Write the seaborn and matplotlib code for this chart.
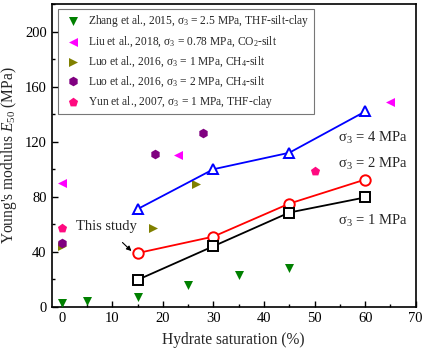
import matplotlib
matplotlib.use("Agg")
import matplotlib.pyplot as plt
import seaborn as sns
import pandas as pd
from matplotlib.ticker import MultipleLocator

sns.set_theme(style="ticks")
plt.rcParams['font.family'] = ['Liberation Serif', 'DejaVu Serif']
plt.rcParams['mathtext.fontset'] = 'custom'
plt.rcParams['mathtext.rm'] = 'Liberation Serif'
plt.rcParams['mathtext.it'] = 'Liberation Serif:italic'

# This study
sat = [15, 30, 45, 60]
e_s1 = [19.5, 44, 68.5, 79.5]
e_s2 = [39, 51, 75, 92.5]
e_s4 = [71, 100, 112, 142]

# Literature
zhang_x = [0, 5, 15, 25, 35, 45]
zhang_y = [3, 4.5, 7, 16, 23, 28]
liu_x = [0, 23, 65]
liu_y = [90, 110, 149]
luo1_x = [0, 18, 26.5]
luo1_y = [44, 57, 89.5]
luo2_x = [0, 18.5, 28]
luo2_y = [46, 111, 126]
yun_x = [0, 50]
yun_y = [57, 99]

fig = plt.figure(figsize=(4.24, 3.55), dpi=100)
ax = fig.add_axes([0.1215, 0.136, 0.859, 0.852])

lit = [
    (zhang_x, zhang_y, 'v', '#008000', 'Zhang et al., 2015, σ$_3$ = 2.5 MPa, THF-silt-clay', 42),
    (liu_x, liu_y, '<', '#FF00FF', 'Liu et al., 2018, σ$_3$ = 0.78 MPa, CO$_2$-silt', 42),
    (luo1_x, luo1_y, '>', '#808000', 'Luo et al., 2016, σ$_3$ = 1 MPa, CH$_4$-silt', 42),
    (luo2_x, luo2_y, 'h', '#800080', 'Luo et al., 2016, σ$_3$ = 2 MPa, CH$_4$-silt', 48),
    (yun_x, yun_y, 'p', '#FF0A80', 'Yun et al., 2007, σ$_3$ = 1 MPa, THF-clay', 48),
]
for xs, ys, m, c, lab, s in lit:
    sns.scatterplot(x=xs, y=ys, marker=m, color=c, s=s, linewidth=0, ax=ax, label=lab, zorder=3)

for ys, m, c in [(e_s4, '^', '#0000FF'), (e_s2, 'o', '#FF0000'), (e_s1, 's', '#000000')]:
    sns.lineplot(x=sat, y=ys, color=c, lw=1.3, ax=ax, marker=m, markersize=7.5,
                 markerfacecolor='white', markeredgecolor=c, markeredgewidth=1.4,
                 legend=False, zorder=4)

ax.set_xlim(-2, 70)
ax.set_ylim(0, 220)
ax.xaxis.set_major_locator(MultipleLocator(10))
ax.xaxis.set_minor_locator(MultipleLocator(5))
ax.yaxis.set_major_locator(MultipleLocator(40))
ax.yaxis.set_minor_locator(MultipleLocator(20))
ax.tick_params(which='both', direction='in', top=False, right=False, labelsize=10.5,
               colors='black')
ax.tick_params(which='major', length=4, width=1)
ax.tick_params(which='minor', length=2.5, width=1)
for sp in ax.spines.values():
    sp.set_visible(True)
    sp.set_linewidth(1.2)
    sp.set_color('black')

ax.set_xlabel('Hydrate saturation (%)', fontsize=11.2, labelpad=5)
ax.set_ylabel("Young's modulus $\\mathit{E}_{50}$ (MPa)", fontsize=11.2, labelpad=4)

ax.text(61.5, 123, 'σ$_3$ = 4 MPa', fontsize=10.5, ha='center', va='center')
ax.text(61.5, 104, 'σ$_3$ = 2 MPa', fontsize=10.5, ha='center', va='center')
ax.text(61.5, 62.5, 'σ$_3$ = 1 MPa', fontsize=10.5, ha='center', va='center')
ax.annotate('This study', xy=(13.8, 40.5), xytext=(8.8, 58), fontsize=10.5,
            ha='center', va='center',
            arrowprops=dict(arrowstyle='-|>', color='black', lw=0.8,
                            mutation_scale=7, shrinkA=6, shrinkB=0))

leg = ax.legend(loc='upper left', bbox_to_anchor=(0.017, 0.985), fontsize=8.3,
                frameon=True, fancybox=False, edgecolor='#555555',
                handletextpad=0.4, borderpad=0.4, labelspacing=0.45,
                handlelength=1.8, borderaxespad=0)
leg.get_frame().set_linewidth(0.8)

fig.savefig('out.png', dpi=100)
